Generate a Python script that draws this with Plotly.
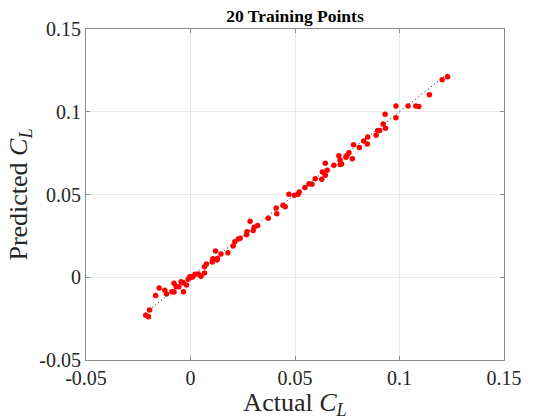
import plotly.graph_objects as go

# Actual vs predicted lift coefficient
actual_cl = [-0.0214, -0.0201, -0.0196, -0.0167, -0.0150, -0.0123, -0.0115, -0.0089, -0.0079, -0.0079,
             -0.0069, -0.0056, -0.0045, -0.0034, -0.0034, -0.0019, -0.0011, -0.0003, 0.0005, 0.0011,
             0.0022, 0.0037, 0.0050, 0.0067, 0.0067, 0.0076, 0.0104, 0.0107, 0.0126, 0.0129,
             0.0120, 0.0146, 0.0179, 0.0204, 0.0212, 0.0229, 0.0238, 0.0268, 0.0270, 0.0300,
             0.0285, 0.0305, 0.0321, 0.0372, 0.0410, 0.0413, 0.0443, 0.0453, 0.0471, 0.0497,
             0.0515, 0.0520, 0.0548, 0.0567, 0.0581, 0.0597, 0.0628, 0.0631, 0.0645, 0.0654,
             0.0645, 0.0686, 0.0710, 0.0716, 0.0723, 0.0716, 0.0744, 0.0749, 0.0758, 0.0774,
             0.0780, 0.0808, 0.0829, 0.0846, 0.0848, 0.0888, 0.0896, 0.0905, 0.0922, 0.0933,
             0.0931, 0.0983, 0.0983, 0.1041, 0.1078, 0.1092, 0.1143, 0.1204, 0.1230]
predicted_cl = [-0.0230, -0.0238, -0.0198, -0.0111, -0.0065, -0.0079, -0.0101, -0.0087, -0.0089, -0.0037,
                -0.0057, -0.0057, -0.0027, -0.0033, -0.0087, -0.0047, -0.0012, 0.0003, 0.0000, 0.0003,
                0.0018, 0.0020, 0.0006, 0.0026, 0.0064, 0.0080, 0.0092, 0.0112, 0.0104, 0.0114,
                0.0159, 0.0140, 0.0148, 0.0189, 0.0215, 0.0231, 0.0235, 0.0257, 0.0275, 0.0282,
                0.0338, 0.0302, 0.0312, 0.0356, 0.0418, 0.0384, 0.0435, 0.0426, 0.0501, 0.0495,
                0.0501, 0.0515, 0.0543, 0.0565, 0.0562, 0.0595, 0.0592, 0.0636, 0.0616, 0.0646,
                0.0689, 0.0676, 0.0734, 0.0682, 0.0684, 0.0708, 0.0725, 0.0737, 0.0753, 0.0716,
                0.0801, 0.0784, 0.0823, 0.0805, 0.0847, 0.0858, 0.0886, 0.0886, 0.0926, 0.0900,
                0.0985, 0.0964, 0.1035, 0.1035, 0.1035, 0.1031, 0.1103, 0.1194, 0.1212]

# Reference (perfect prediction) line endpoints
ref_line = [-0.0215, 0.123]

tick_vals = [-0.05, 0, 0.05, 0.1, 0.15]
tick_text = ["-0.05", "0", "0.05", "0.1", "0.15"]

FONT = "Liberation Serif, Times New Roman, serif"
AXIS_COLOR = "#8c8c8c"
GRID_COLOR = "#e8e8e8"
TEXT_COLOR = "#262626"

fig = go.Figure()
fig.add_trace(go.Scatter(
    x=ref_line, y=ref_line, mode="lines",
    line=dict(color="black", width=1, dash="1px,3px"),
    showlegend=False, hoverinfo="skip"))
fig.add_trace(go.Scatter(
    x=actual_cl, y=predicted_cl, mode="markers",
    marker=dict(color="#ff0000", size=5.5, line=dict(width=0)),
    showlegend=False))

axis_common = dict(
    range=[-0.05, 0.15], tickvals=tick_vals, ticktext=tick_text,
    showgrid=True, gridcolor=GRID_COLOR, gridwidth=1,
    zeroline=False, showline=True, linecolor=AXIS_COLOR, linewidth=1,
    mirror="ticks", ticks="inside", ticklen=4, tickcolor=AXIS_COLOR,
    tickfont=dict(family=FONT, size=20, color=TEXT_COLOR),
)

fig.update_layout(
    width=534, height=420,
    margin=dict(l=86, r=20, t=29, b=60),
    paper_bgcolor="white", plot_bgcolor="white",
    title=dict(text="<b>20 Training Points</b>", x=0.5, xref="paper", xanchor="center",
               y=1 - 16 / 420, yanchor="middle", yref="container",
               font=dict(family=FONT, size=17.5, color="black")),
    xaxis=dict(**axis_common,
               title=dict(text="Actual <i>C</i><sub><i>L</i></sub>",
                          font=dict(family=FONT, size=26, color=TEXT_COLOR), standoff=0)),
    yaxis=dict(**axis_common,
               title=dict(text="Predicted <i>C</i><sub><i>L</i></sub>",
                          font=dict(family=FONT, size=26, color=TEXT_COLOR), standoff=4)),
)

fig.write_html("out.html")
